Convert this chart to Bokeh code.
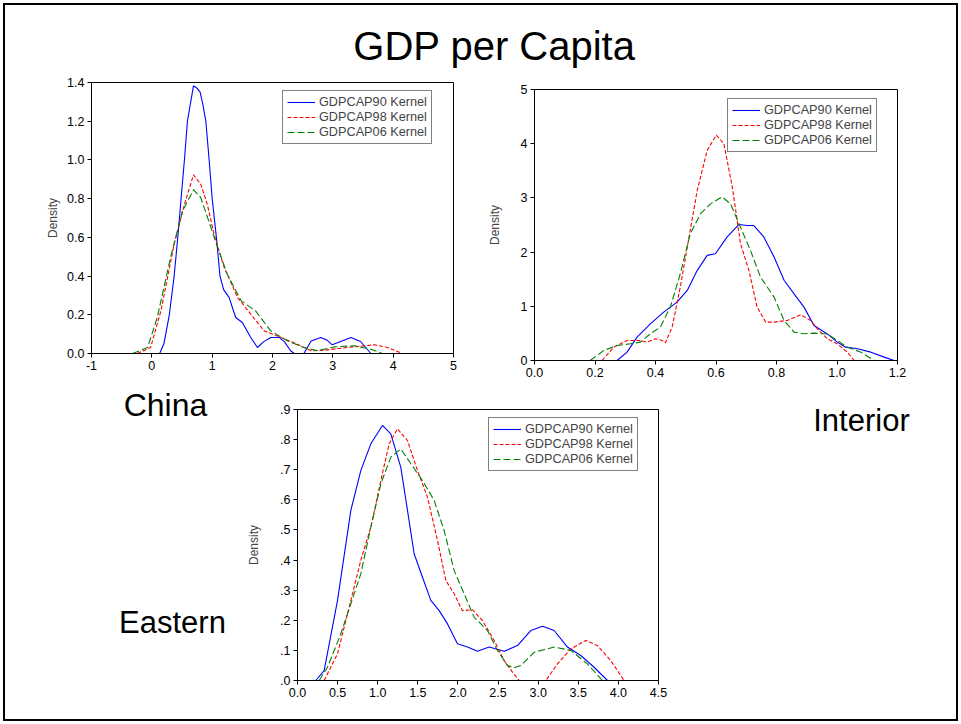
from bokeh.plotting import figure
from bokeh.models import (Range1d, Legend, LegendItem, FixedTicker,
                          NumeralTickFormatter, CustomJSTickFormatter)
from bokeh.layouts import column, row
from bokeh.embed import file_html
from bokeh.resources import INLINE
from bokeh.core.properties import value

FONT = "Liberation Sans"

SERIES_NAMES = ["GDPCAP90 Kernel", "GDPCAP98 Kernel", "GDPCAP06 Kernel"]

# ---- China: kernel densities of GDP per capita ----
china_x90 = [0.13, 0.2, 0.29, 0.37, 0.43, 0.54, 0.59, 0.69, 0.75, 0.80, 0.85, 0.895, 0.95, 1.0,
             1.07, 1.13, 1.19, 1.28, 1.39, 1.5, 1.64, 1.75, 1.85, 1.97, 2.11, 2.2, 2.3, 2.36,
             2.52, 2.64, 2.8, 2.9, 2.99, 3.13, 3.3, 3.46, 3.63]
china_y90 = [0.0, 0.05, 0.2, 0.4, 0.6, 1.0, 1.2, 1.383, 1.37, 1.35, 1.28, 1.2, 1.0, 0.8,
             0.6, 0.4, 0.33, 0.29, 0.186, 0.16, 0.083, 0.031, 0.06, 0.083, 0.083, 0.06, 0.014, 0.0,
             0.0, 0.065, 0.083, 0.07, 0.045, 0.062, 0.083, 0.062, 0.0]
china_x98 = [-0.24, -0.02, 0.15, 0.37, 0.54, 0.69, 0.81, 0.92, 1.03, 1.20, 1.42, 1.64, 1.86,
             2.14, 2.41, 2.64, 2.86, 3.24, 3.69, 3.91, 4.15]
china_y98 = [0.0, 0.031, 0.22, 0.565, 0.77, 0.923, 0.875, 0.77, 0.617, 0.444, 0.29, 0.203, 0.117,
             0.083, 0.048, 0.014, 0.017, 0.031, 0.045, 0.031, 0.0]
china_x06 = [-0.32, -0.07, 0.09, 0.31, 0.51, 0.69, 0.81, 0.98, 1.09, 1.25, 1.48, 1.72, 1.97,
             2.25, 2.52, 2.75, 3.02, 3.35, 3.63, 3.82]
china_y06 = [0.0, 0.031, 0.186, 0.496, 0.737, 0.846, 0.806, 0.651, 0.548, 0.41, 0.272, 0.22, 0.117,
             0.065, 0.031, 0.014, 0.034, 0.040, 0.022, 0.0]

# ---- Interior provinces ----
int_x90 = [0.273, 0.306, 0.339, 0.383, 0.427, 0.471, 0.505, 0.538, 0.571, 0.598, 0.637, 0.676,
           0.703, 0.725, 0.758, 0.792, 0.825, 0.858, 0.891, 0.924, 0.968, 1.001, 1.029, 1.068,
           1.112, 1.156, 1.189]
int_y90 = [0.0, 0.154, 0.431, 0.677, 0.893, 1.078, 1.293, 1.663, 1.94, 1.97, 2.28, 2.51,
           2.49, 2.49, 2.28, 1.91, 1.48, 1.23, 0.985, 0.647, 0.49, 0.339, 0.246, 0.216,
           0.154, 0.062, 0.0]
int_x98 = [0.223, 0.262, 0.306, 0.35, 0.372, 0.40, 0.422, 0.433, 0.455, 0.482, 0.505, 0.538,
           0.571, 0.601, 0.626, 0.654, 0.681, 0.709, 0.736, 0.764, 0.792, 0.836, 0.880, 0.913,
           0.935, 0.968, 1.001, 1.034, 1.057]
int_y98 = [0.0, 0.246, 0.369, 0.369, 0.339, 0.40, 0.37, 0.326, 0.616, 1.355, 2.09, 3.14,
           3.88, 4.16, 4.0, 3.2, 2.155, 1.66, 0.985, 0.708, 0.708, 0.739, 0.844, 0.739,
           0.585, 0.40, 0.308, 0.154, 0.0]
int_x06 = [0.184, 0.229, 0.273, 0.317, 0.35, 0.383, 0.416, 0.449, 0.482, 0.515, 0.549, 0.582,
           0.62, 0.648, 0.681, 0.714, 0.747, 0.792, 0.825, 0.858, 0.891, 0.924, 0.968, 1.001,
           1.034, 1.079, 1.123]
int_y06 = [0.0, 0.185, 0.277, 0.308, 0.339, 0.493, 0.616, 0.985, 1.60, 2.34, 2.71, 2.89,
           3.02, 2.89, 2.46, 2.03, 1.54, 1.17, 0.739, 0.523, 0.493, 0.505, 0.49, 0.369,
           0.246, 0.154, 0.0]

# ---- Eastern provinces ----
east_x90 = [0.228, 0.332, 0.499, 0.665, 0.789, 0.914, 1.059, 1.163, 1.288, 1.371, 1.454, 1.558,
            1.662, 1.766, 1.87, 1.994, 2.119, 2.243, 2.389, 2.576, 2.742, 2.908, 3.054, 3.199,
            3.365, 3.531, 3.697, 3.864]
east_y90 = [0.0, 0.033, 0.266, 0.565, 0.697, 0.786, 0.847, 0.819, 0.708, 0.565, 0.421, 0.343,
            0.266, 0.232, 0.188, 0.122, 0.111, 0.097, 0.111, 0.097, 0.116, 0.166, 0.180, 0.166,
            0.111, 0.083, 0.044, 0.0]
east_x98 = [0.332, 0.499, 0.665, 0.789, 0.914, 1.039, 1.142, 1.246, 1.371, 1.496, 1.62, 1.745,
            1.849, 1.953, 2.056, 2.181, 2.306, 2.451, 2.576, 2.68, 2.763, 3.095, 3.24, 3.407,
            3.594, 3.739, 3.905, 4.071]
east_y98 = [0.0, 0.089, 0.266, 0.399, 0.509, 0.664, 0.786, 0.836, 0.797, 0.697, 0.609, 0.465,
            0.332, 0.288, 0.232, 0.235, 0.199, 0.133, 0.066, 0.028, 0.0, 0.0, 0.055, 0.105,
            0.133, 0.116, 0.066, 0.0]
east_x06 = [0.27, 0.374, 0.54, 0.665, 0.789, 0.914, 1.039, 1.163, 1.288, 1.413, 1.558, 1.703,
            1.828, 1.953, 2.077, 2.202, 2.368, 2.493, 2.617, 2.7, 2.784, 2.95, 3.199, 3.407,
            3.614, 3.801]
east_y06 = [0.0, 0.044, 0.155, 0.255, 0.354, 0.509, 0.653, 0.742, 0.769, 0.72, 0.664, 0.598,
            0.498, 0.365, 0.288, 0.21, 0.166, 0.1, 0.05, 0.042, 0.05, 0.094, 0.111, 0.1,
            0.055, 0.0]

china_xticks = [-1, 0, 1, 2, 3, 4, 5]
china_yticks = [0.0, 0.2, 0.4, 0.6, 0.8, 1.0, 1.2, 1.4]
int_xticks = [0.0, 0.2, 0.4, 0.6, 0.8, 1.0, 1.2]
int_yticks = [0, 1, 2, 3, 4, 5]
east_xticks = [0.0, 0.5, 1.0, 1.5, 2.0, 2.5, 3.0, 3.5, 4.0, 4.5]
east_yticks = [0.0, 0.1, 0.2, 0.3, 0.4, 0.5, 0.6, 0.7, 0.8, 0.9]

LINE_STYLES = [
    dict(line_color="#0000FF", line_width=1.1, line_dash="solid"),
    dict(line_color="#FF0000", line_width=1.1, line_dash="4 2"),
    dict(line_color="#008000", line_width=1.1, line_dash="7 3"),
]


def style_axis(ax, ticks, fmt, size="12.5px"):
    ax.ticker = FixedTicker(ticks=ticks)
    ax.formatter = fmt
    ax.major_tick_out = 4
    ax.major_tick_in = 0
    ax.minor_tick_out = 0
    ax.minor_tick_in = 0
    ax.axis_line_color = "black"
    ax.major_tick_line_color = "black"
    ax.major_label_text_font = FONT
    ax.major_label_text_font_size = size
    ax.major_label_text_color = "black"
    ax.major_label_standoff = 3


def density_panel(width, height, borders, xr, yr, xticks, xfmt, yticks, yfmt,
                  curves, legend_xy, label_standoff):
    left, right, top, bottom = borders
    p = figure(width=width, height=height, output_backend="svg", toolbar_location=None,
               x_range=Range1d(*xr), y_range=Range1d(*yr),
               min_border_left=left, min_border_right=right,
               min_border_top=top, min_border_bottom=bottom)
    p.grid.visible = False
    p.outline_line_color = "black"
    p.outline_line_width = 1
    p.background_fill_color = "white"
    p.border_fill_color = None
    style_axis(p.xaxis[0], xticks, xfmt)
    style_axis(p.yaxis[0], yticks, yfmt)
    p.yaxis[0].axis_label = "Density"
    p.yaxis[0].axis_label_text_font = FONT
    p.yaxis[0].axis_label_text_font_size = "12px"
    p.yaxis[0].axis_label_text_font_style = "normal"
    p.yaxis[0].axis_label_standoff = label_standoff

    items = []
    for (xs, ys), name, st in zip(curves, SERIES_NAMES, LINE_STYLES):
        r = p.line(xs, ys, **st)
        items.append(LegendItem(label=name, renderers=[r]))
    leg = Legend(items=items, location=legend_xy,
                 border_line_color="black", border_line_width=1,
                 background_fill_color="white", background_fill_alpha=1.0,
                 label_text_font=FONT, label_text_font_size="12.7px",
                 glyph_width=28, glyph_height=14, label_height=14, spacing=1,
                 padding=4, label_standoff=4, margin=0)
    p.add_layout(leg, "center")
    return p


def text_panel(width, height, labels):
    p = figure(width=width, height=height, output_backend="svg", toolbar_location=None,
               x_range=Range1d(0, width), y_range=Range1d(0, height),
               x_axis_type=None, y_axis_type=None,
               min_border=0, min_border_left=0, min_border_right=0,
               min_border_top=0, min_border_bottom=0)
    p.grid.visible = False
    p.outline_line_color = None
    p.background_fill_color = None
    p.border_fill_color = None
    for txt, x, y, size in labels:
        p.text(x=[x], y=[y], text=[txt], text_font=value(FONT), text_font_size=size,
               text_align="center", text_baseline="alphabetic", text_color="black")
    return p


fmt1 = NumeralTickFormatter(format="0.0")
fmt0 = NumeralTickFormatter(format="0")
dot_fmt = CustomJSTickFormatter(code="return tick.toFixed(1).replace(/^0/, '');")

title_p = text_panel(961, 75, [("GDP per Capita", 494, 30, "40px")])

china = density_panel(480, 308, (91, 27, 7, 30), (-1, 5), (0, 1.4),
                      china_xticks, fmt0, china_yticks, fmt1,
                      [(china_x90, china_y90), (china_x98, china_y98), (china_x06, china_y06)],
                      (191, 209), 4)
interior = density_panel(481, 308, (54, 64, 14, 23), (0, 1.2), (0, 5),
                         int_xticks, fmt1, int_yticks, fmt0,
                         [(int_x90, int_y90), (int_x98, int_y98), (int_x06, int_y06)],
                         (193, 208), 16)
eastern = density_panel(460, 341, (57, 42, 26, 44), (0, 4.5), (0, 0.9),
                        east_xticks, fmt1, east_yticks, dot_fmt,
                        [(east_x90, east_y90), (east_x98, east_y98), (east_x06, east_y06)],
                        (191, 209), 16)

left_p = text_panel(240, 341, [("China", 165, 320, "32px"), ("Eastern", 172, 102, "31px")])
right_p = text_panel(261, 341, [("Interior", 161, 304, "31px")])

# each panel sits in its own column so its frame keeps its own borders
layout = column(
    column(title_p),
    row(column(china), column(interior)),
    row(column(left_p), column(eastern), column(right_p)),
    styles={"outline": "2px solid black", "outline-offset": "-5px", "background": "white"},
)

open("out.html", "w").write(file_html(layout, INLINE, title="GDP per Capita"))
